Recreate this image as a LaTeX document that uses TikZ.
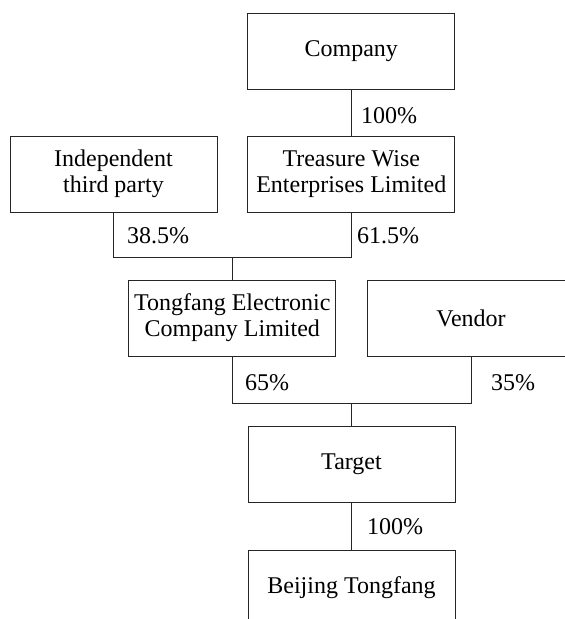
\documentclass[tikz,border=0pt]{standalone}
\usepackage{fontspec}
\setmainfont{Liberation Serif}
\begin{document}
\begin{tikzpicture}[x=1pt,y=-1pt,
  every node/.style={font=\fontsize{24}{26}\selectfont},
  entity/.style={draw=black!85,line width=1pt,minimum width=207pt,minimum height=76pt,align=center,inner sep=0pt},
  pct/.style={anchor=west,inner sep=0pt},
  link/.style={draw=black!85,line width=1pt}]
\useasboundingbox (0,0) rectangle (565,619);
\clip (0,0) rectangle (565,619);
\node[entity] (company) at (351.25,51.2) {Company};
\node[entity] (treasure) at (351.25,174) {Treasure Wise\\Enterprises Limited};
\node[entity] (indep) at (113.5,174) {Independent\\third party};
\node[entity] (tongfang) at (232.3,318) {Tongfang Electronic\\Company Limited};
\node[entity] (vendor) at (471,318) {Vendor};
\node[entity] (target) at (351.5,464) {Target};
\node[entity] (beijing) at (351.5,588) {Beijing Tongfang};
\coordinate (j1) at (232.3,257.3);
\coordinate (j2) at (351.5,403.7);
\draw[link] (company.south) -- (treasure.north);
\draw[link] (indep.south) |- (j1);
\draw[link] (treasure.south) |- (j1);
\draw[link] (j1) -- (tongfang.north);
\draw[link] (tongfang.south) |- (j2);
\draw[link] (vendor.south) |- (j2);
\draw[link] (j2) -- (target.north);
\draw[link] (target.south) -- (beijing.north);
\node[pct] (p1) at (361,116) {100\%};
\node[pct] (p2) at (127,236) {38.5\%};
\node[pct] (p3) at (357,236) {61.5\%};
\node[pct] (p4) at (245,383) {65\%};
\node[pct] (p5) at (491,383) {35\%};
\node[pct] (p6) at (367,527) {100\%};
\end{tikzpicture}
\end{document}
